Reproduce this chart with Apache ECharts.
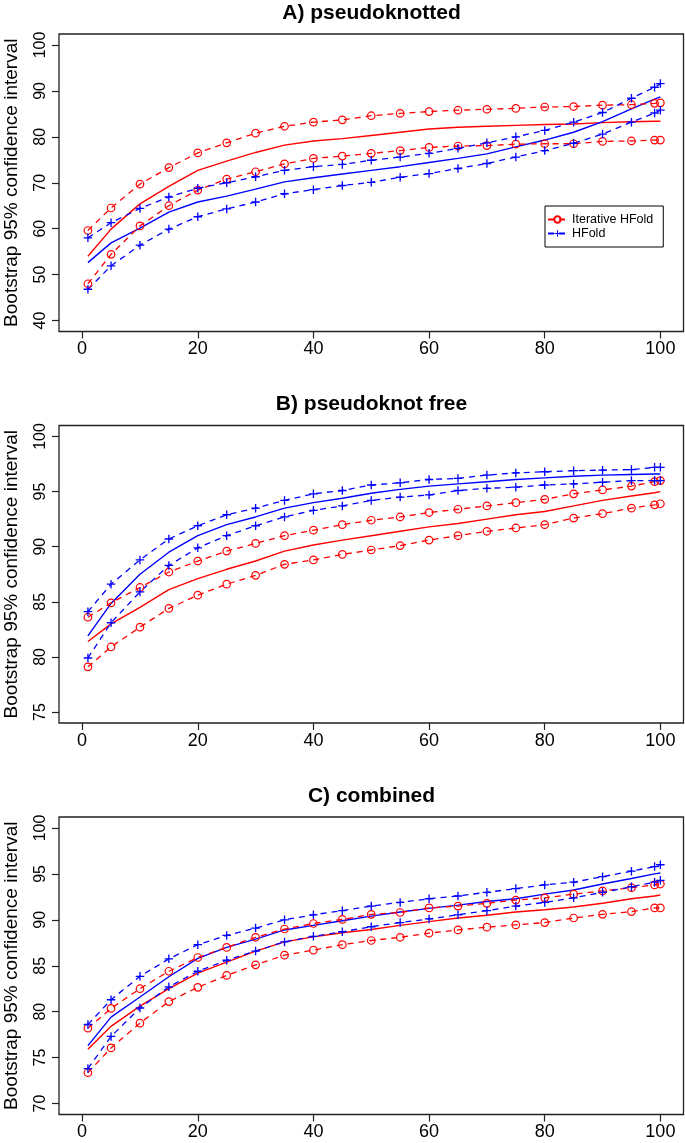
<!DOCTYPE html>
<html>
<head>
<meta charset="utf-8">
<script src="https://cdn.jsdelivr.net/npm/echarts@6/dist/echarts.min.js"></script>
<style>
html,body{margin:0;padding:0;background:#fff;}
#chart{width:685px;height:1143px;}
</style>
</head>
<body>
<div id="chart"></div>
<script>
// ---------- data ----------
const xs = [1,5,10,15,20,25,30,35,40,45,50,55,60,65,70,75,80,85,90,95,99,100];
const xTicks = [0,20,40,60,80,100];

const panelTitles = ['A) pseudoknotted', 'B) pseudoknot free', 'C) combined'];
const yTicksA = [40,50,60,70,80,90,100];
const yTicksB = [75,80,85,90,95,100];
const yTicksC = [70,75,80,85,90,95,100];

// A) pseudoknotted
const iterUpperA = [59.6,64.5,69.7,73.3,76.5,78.7,80.8,82.3,83.2,83.7,84.6,85.1,85.5,85.8,86.0,86.2,86.5,86.6,86.9,87.0,87.3,87.4];
const iterMeanA  = [54.0,59.9,65.4,69.2,72.7,74.7,76.6,78.2,79.1,79.6,80.3,81.0,81.7,82.1,82.3,82.5,82.7,82.8,83.1,83.3,83.4,83.4];
const iterLowerA = [48.0,54.4,60.6,65.0,68.4,70.8,72.4,74.1,75.3,75.8,76.4,77.0,77.7,78.0,78.1,78.4,78.5,78.5,79.0,79.1,79.3,79.3];
const hfUpperA   = [58.0,61.3,64.4,66.9,68.8,70.0,71.3,72.7,73.5,74.0,74.9,75.6,76.4,77.5,78.7,80.0,81.4,83.2,85.3,88.4,90.8,91.6];
const hfMeanA    = [52.6,56.9,60.1,63.6,65.8,67.1,68.6,70.2,71.1,71.9,72.7,73.5,74.4,75.3,76.3,77.8,79.3,81.0,83.3,86.1,88.2,88.7];
const hfLowerA   = [46.8,51.9,56.4,59.9,62.6,64.3,65.8,67.6,68.5,69.4,70.1,71.2,72.0,73.1,74.2,75.6,77.0,78.6,80.6,83.2,85.2,85.8];

// B) pseudoknot free
const iterUpperB = [83.6,84.9,86.3,87.7,88.7,89.6,90.3,91.0,91.5,92.0,92.4,92.7,93.1,93.4,93.7,94.0,94.3,94.8,95.15,95.5,95.9,96.0];
const iterMeanB  = [81.4,83.0,84.5,86.1,87.1,87.95,88.7,89.6,90.15,90.6,91.0,91.4,91.8,92.1,92.5,92.9,93.2,93.7,94.2,94.6,94.9,95.0];
const iterLowerB = [79.1,80.9,82.7,84.4,85.6,86.6,87.4,88.4,88.8,89.3,89.7,90.1,90.6,91.0,91.4,91.7,92.0,92.6,93.0,93.5,93.8,93.9];
const hfUpperB   = [84.1,86.6,88.8,90.7,91.9,92.9,93.5,94.2,94.8,95.1,95.6,95.8,96.1,96.2,96.5,96.7,96.8,96.9,96.95,97.0,97.2,97.2];
const hfMeanB    = [81.9,84.85,87.5,89.5,91.0,92.0,92.7,93.5,94.0,94.4,94.85,95.2,95.5,95.7,95.9,96.1,96.25,96.4,96.5,96.55,96.6,96.6];
const hfLowerB   = [79.9,83.1,85.9,88.3,89.9,91.0,91.9,92.7,93.3,93.7,94.2,94.5,94.7,95.1,95.3,95.4,95.6,95.7,95.85,96.0,96.0,96.0];

// C) combined
const iterUpperC = [78.2,80.35,82.5,84.4,85.9,87.0,88.1,89.0,89.6,90.05,90.6,90.8,91.3,91.5,91.8,92.15,92.4,92.8,93.15,93.5,93.8,93.9];
const iterMeanC  = [75.9,78.4,80.6,82.5,84.2,85.4,86.6,87.6,88.15,88.6,88.95,89.4,89.8,90.2,90.5,90.85,91.1,91.4,91.8,92.3,92.6,92.7];
const iterLowerC = [73.35,76.05,78.75,81.1,82.65,83.95,85.1,86.15,86.7,87.3,87.75,88.1,88.55,88.9,89.2,89.45,89.7,90.2,90.6,90.9,91.3,91.3];
const hfUpperC   = [78.6,81.3,83.85,85.75,87.3,88.3,89.1,90.0,90.55,91.0,91.5,91.9,92.3,92.6,93.0,93.4,93.8,94.1,94.7,95.3,95.8,96.0];
const hfMeanC    = [76.3,79.4,81.6,83.8,85.8,87.0,87.9,88.9,89.4,89.9,90.4,90.85,91.25,91.6,92.0,92.3,92.8,93.25,93.9,94.5,95.0,95.1];
const hfLowerC   = [73.8,77.3,80.4,82.7,84.4,85.6,86.6,87.6,88.2,88.7,89.25,89.7,90.1,90.55,91.0,91.5,91.9,92.4,93.0,93.6,94.1,94.3];

const seriesNames = ['Iterative HFold', 'HFold'];
const yAxisTitle = 'Bootstrap 95% confidence interval';

// ---------- layout / style ----------
const FONT = "'Liberation Sans', Arial, Helvetica, sans-serif";
const RED = '#ff0000', BLUE = '#0000ff';
const panelTops = [34, 425.5, 817];
const panelH = 297.5;
const boxLeft = 59;
const panels = [
  {ticks: yTicksA, iu: iterUpperA, im: iterMeanA, il: iterLowerA, hu: hfUpperA, hm: hfMeanA, hl: hfLowerA},
  {ticks: yTicksB, iu: iterUpperB, im: iterMeanB, il: iterLowerB, hu: hfUpperB, hm: hfMeanB, hl: hfLowerB},
  {ticks: yTicksC, iu: iterUpperC, im: iterMeanC, il: iterLowerC, hu: hfUpperC, hm: hfMeanC, hl: hfLowerC}
];
const PLUS = 'path://M0,3.8H9V5.2H0ZM3.8,0H5.2V9H3.8Z';

function pairs(arr){ return xs.map((x,i)=>[x, arr[i]]); }

function dashedSeries(name, arr, gi, color, isCircle){
  return {
    name: name, type: 'line', xAxisIndex: gi, yAxisIndex: gi,
    data: pairs(arr),
    showAllSymbol: true,
    symbol: isCircle ? 'circle' : PLUS,
    symbolSize: isCircle ? 7.5 : 8.5,
    itemStyle: isCircle ? {color: 'rgba(255,255,255,0)', borderColor: color, borderWidth: 1.2}
                        : {color: color, borderWidth: 0},
    lineStyle: {color: color, width: 1.3, type: [6,5]},
    emphasis: {disabled: true},
    z: 3
  };
}
function solidSeries(name, arr, gi, color){
  return {
    name: name, type: 'line', xAxisIndex: gi, yAxisIndex: gi,
    data: pairs(arr),
    symbol: 'none',
    lineStyle: {color: color, width: 1.4, type: 'solid'},
    itemStyle: {color: color},
    emphasis: {disabled: true},
    z: 2
  };
}

const grids = [], xAxes = [], yAxes = [], series = [], graphics = [];
panels.forEach((p, gi) => {
  grids.push({left: boxLeft, right: 1.5, top: panelTops[gi], height: panelH,
    outerBoundsMode: 'none', containLabel: false,
    show: true, borderColor: '#222', borderWidth: 1.3, backgroundColor: 'transparent'});
  xAxes.push({gridIndex: gi, type: 'value', min: -4, max: 104, position: 'bottom',
    axisLine: {show: false, onZero: false}, splitLine: {show: false},
    axisTick: {show: true, customValues: xTicks, length: 7, lineStyle: {color: '#222', width: 1.2}},
    axisLabel: {customValues: xTicks, fontSize: 18, margin: 9, color: '#000', fontFamily: FONT}});
  const lo = p.ticks[0], hi = p.ticks[p.ticks.length-1], ext = (hi-lo)*0.04;
  yAxes.push({gridIndex: gi, type: 'value', min: lo-ext, max: hi+ext, position: 'left',
    axisLine: {show: false, onZero: false}, splitLine: {show: false},
    axisTick: {show: true, customValues: p.ticks, length: 7, lineStyle: {color: '#222', width: 1.2}},
    axisLabel: {customValues: p.ticks, fontSize: 16, rotate: 90, margin: 10, color: '#000', fontFamily: FONT},
    name: yAxisTitle, nameLocation: 'middle', nameRotate: 90, nameGap: 38,
    nameTextStyle: {fontSize: 19, color: '#000', fontFamily: FONT}});
  series.push(solidSeries('Iterative HFold mean', p.im, gi, RED));
  series.push(solidSeries('HFold mean', p.hm, gi, BLUE));
  series.push(dashedSeries(seriesNames[0], p.iu, gi, RED, true));
  series.push(dashedSeries(seriesNames[0], p.il, gi, RED, true));
  series.push(dashedSeries(seriesNames[1], p.hu, gi, BLUE, false));
  series.push(dashedSeries(seriesNames[1], p.hl, gi, BLUE, false));
  graphics.push({type: 'text', x: 371.5, y: panelTops[gi] - 21,
    style: {text: panelTitles[gi], font: 'bold 21px ' + FONT, fill: '#000', align: 'center', verticalAlign: 'middle'}});
});

const chart = echarts.init(document.getElementById('chart'), null, {renderer: 'canvas'});
chart.setOption({
  animation: false,
  backgroundColor: '#fff',
  grid: grids, xAxis: xAxes, yAxis: yAxes, series: series,
  graphic: graphics,
  legend: {
    data: seriesNames, orient: 'vertical', left: 545, top: 206,
    borderColor: '#000', borderWidth: 1, padding: [7, 10, 7, 2], itemGap: 1,
    itemWidth: 19, itemHeight: 8, selectedMode: false,
    textStyle: {fontSize: 12.5, lineHeight: 13, color: '#000', fontFamily: FONT}
  }
});
</script>
</body>
</html>
